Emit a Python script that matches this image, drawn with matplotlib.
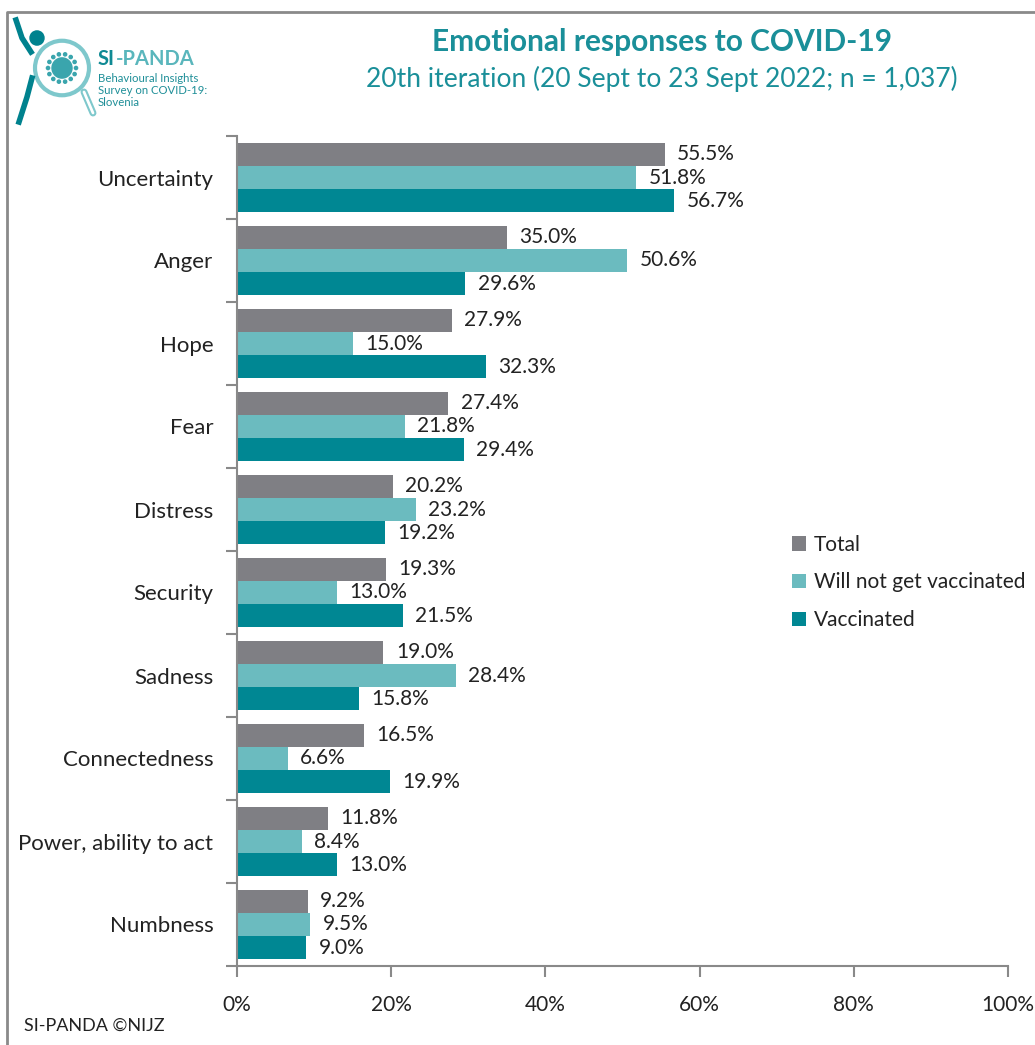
import numpy as np
import matplotlib
matplotlib.use("Agg")
import matplotlib.pyplot as plt
from matplotlib.patches import Circle
from matplotlib.lines import Line2D
from matplotlib.ticker import MultipleLocator, FuncFormatter

plt.rcParams['font.family'] = ['Lato', 'DejaVu Sans']

# ----------------------
# Data
# ----------------------
emotions = ["Uncertainty", "Anger", "Hope", "Fear", "Distress", "Security",
            "Sadness", "Connectedness", "Power, ability to act", "Numbness"]
total = [55.5, 35.0, 27.9, 27.4, 20.2, 19.3, 19.0, 16.5, 11.8, 9.2]
not_vaccinated = [51.8, 50.6, 15.0, 21.8, 23.2, 13.0, 28.4, 6.6, 8.4, 9.5]
vaccinated = [56.7, 29.6, 32.3, 29.4, 19.2, 21.5, 15.8, 19.9, 13.0, 9.0]

series_names = ["Total", "Will not get vaccinated", "Vaccinated"]
series_colors = ["#7f7f84", "#6bbbbf", "#008793"]

TEAL = "#1a8f99"
W, H = 1035, 1045

fig = plt.figure(figsize=(W / 100, H / 100), dpi=100)


def px(x, y):
    # pixel coords (from top-left) -> figure fraction
    return x / W, 1 - y / H


# ----------------------
# Bars
# ----------------------
ax = fig.add_axes([237 / W, 1 - 966 / H, (1008 - 237) / W, (966 - 136) / H])
y = np.arange(len(emotions))
bar_h = 0.28
for i, (vals, name, col) in enumerate(zip([total, not_vaccinated, vaccinated],
                                          series_names, series_colors)):
    pos = y + (i - 1) * bar_h
    ax.barh(pos, vals, height=bar_h, color=col, label=name)
    for p, v in zip(pos, vals):
        ax.text(v + 1.6, p, f"{v:.1f}%", va="center", ha="left",
                fontsize=15, color="#222222")

ax.set_xlim(0, 100)
ax.set_ylim(len(emotions) - 0.5, -0.5)
ax.set_yticks(y)
ax.set_yticklabels(emotions, fontsize=16, color="#222222")
ax.yaxis.set_minor_locator(MultipleLocator(1, offset=0.5))
ax.tick_params(axis="y", which="major", length=0, pad=17)
ax.tick_params(axis="y", which="minor", length=8, width=1.5, color="#898989")
ax.xaxis.set_major_locator(MultipleLocator(20))
ax.xaxis.set_major_formatter(FuncFormatter(lambda v, _: f"{v:.0f}%"))
ax.tick_params(axis="x", length=8, width=1.5, color="#898989", pad=13,
               labelsize=15, labelcolor="#222222")
for s in ["top", "right"]:
    ax.spines[s].set_visible(False)
for s in ["left", "bottom"]:
    ax.spines[s].set_color("#898989")
    ax.spines[s].set_linewidth(1.5)

leg = fig.legend(loc="upper left", bbox_to_anchor=px(773, 516), frameon=False,
                 fontsize=15, handlelength=0.7, handleheight=0.7,
                 handletextpad=0.35, labelspacing=0.85)
for t in leg.get_texts():
    t.set_color("#222222")

# ----------------------
# Titles and footer
# ----------------------
fig.text(*px(662, 42), "Emotional responses to COVID-19", ha="center",
         va="center", fontsize=21.5, fontweight="bold", color=TEAL)
fig.text(*px(662, 79), "20th iteration (20 Sept to 23 Sept 2022; n = 1,037)",
         ha="center", va="center", fontsize=19, color=TEAL)
fig.text(*px(24, 1026), "SI-PANDA \u00a9NIJZ", ha="left", va="center",
         fontsize=13, color="#222222")

# frame around the chart (top and left edges)
fig.add_artist(Line2D([7 / W, 7 / W, 1.0], [0.0, 1 - 12 / H, 1 - 12 / H],
                      transform=fig.transFigure, color="#8a8a8a", lw=2))

# ----------------------
# Logo
# ----------------------
sx = fig.transFigure
cx, cy = px(62, 68)
fig.add_artist(Circle((cx, cy), 27 / W, transform=sx, fill=False,
                      ec="#7ec8cc", lw=3))
fig.add_artist(Line2D([84 / W, 93 / W], [1 - 92 / H, 1 - 113 / H],
                      transform=sx, color="#7ec8cc", lw=5,
                      solid_capstyle="round"))
fig.add_artist(Line2D([84 / W, 93 / W], [1 - 92 / H, 1 - 113 / H],
                      transform=sx, color="white", lw=2,
                      solid_capstyle="round"))
# little figure
fig.add_artist(Circle(px(37, 38), 7 / W, transform=sx, color="#00828e"))
fig.add_artist(Line2D([16 / W, 22 / W, 31 / W], [1 - 20 / H, 1 - 38 / H, 1 - 52 / H],
                      transform=sx, color="#00828e", lw=4))
fig.add_artist(Line2D([32 / W, 27 / W, 19 / W], [1 - 78 / H, 1 - 97 / H, 1 - 122 / H],
                      transform=sx, color="#00828e", lw=4))
# virus
fig.add_artist(Circle((cx, cy), 10 / W, transform=sx, color="#3aa5ad"))
for a in np.linspace(0, 2 * np.pi, 14, endpoint=False):
    fig.add_artist(Circle((cx + 14 * np.cos(a) / W, cy + 14 * np.sin(a) / H),
                          1.6 / W, transform=sx, color="#3aa5ad"))
fig.text(*px(98, 59), "SI", fontsize=14.5, fontweight="bold", color="#0f8a94",
         va="center")
fig.text(*px(116, 59), "-PANDA", fontsize=14.5, fontweight="bold",
         color="#5ab6bc", va="center")
for i, line in enumerate(["Behavioural Insights", "Survey on COVID-19:", "Slovenia"]):
    fig.text(*px(98, 78 + i * 12), line, fontsize=8.2, color="#1f8f98",
             va="center")

fig.savefig("out.png", dpi=100)
